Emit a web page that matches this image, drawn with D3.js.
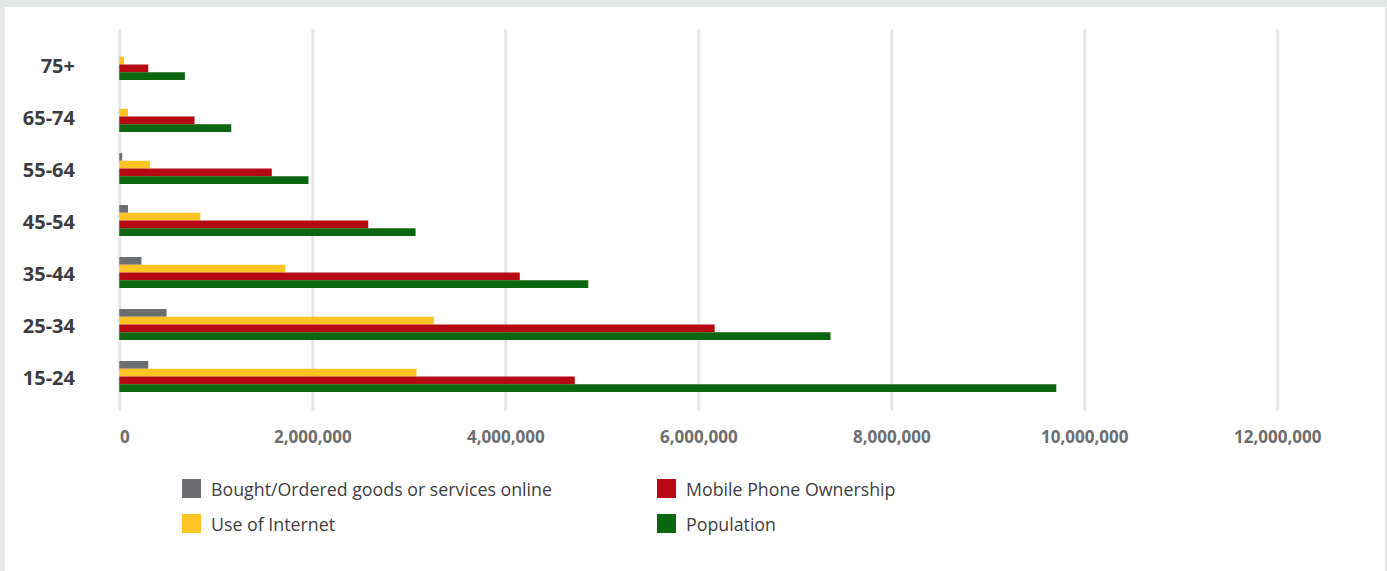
<!DOCTYPE html>
<html lang="en">
<head>
    <meta charset="UTF-8">
    <script src="https://cdnjs.cloudflare.com/ajax/libs/d3/7.8.5/d3.min.js"></script>
    <style>
        body { margin: 0; background: #e6e7e8; }
        svg { display: block; }
    </style>
</head>
<body>
    <div id="viz"><svg width="1387" height="571"></svg></div>
    <script>
        // age groups, top to bottom
        const categories = ["75+", "65-74", "55-64", "45-54", "35-44", "25-34", "15-24"];
        const bought     = [0, 0, 30000, 90000, 230000, 490000, 300000];
        const internet   = [50000, 90000, 320000, 840000, 1720000, 3260000, 3080000];
        const mobile     = [300000, 780000, 1580000, 2580000, 4150000, 6170000, 4720000];
        const population = [680000, 1160000, 1960000, 3070000, 4860000, 7370000, 9710000];
        const tickValues = [0, 2000000, 4000000, 6000000, 8000000, 10000000, 12000000];

        const seriesNames = ["Bought/Ordered goods or services online", "Use of Internet",
                             "Mobile Phone Ownership", "Population"];
        const seriesData = [bought, internet, mobile, population];
        const colors = ["#6d6e72", "#ffc423", "#b70914", "#0c650f"];

        const svg = d3.select("svg");

        // white panel on grey page
        svg.append("rect")
            .attr("width", 1387).attr("height", 571)
            .attr("fill", "#e6e7e8");
        svg.append("rect")
            .attr("x", 5).attr("y", 7)
            .attr("width", 1380).attr("height", 564)
            .attr("fill", "#ffffff");

        const xScale = d3.scaleLinear().domain([0, 12000000]).range([119.3, 1277.3]);
        const yScale = d3.scaleBand()
            .domain(categories)
            .range([49, 392])
            .paddingInner(0.404)
            .paddingOuter(0);
        const subScale = d3.scaleBand()
            .domain(d3.range(seriesNames.length))
            .range([0, yScale.bandwidth()]);

        const xAxis = d3.axisBottom(xScale)
            .tickValues(tickValues)
            .tickSize(382)
            .tickPadding(20)
            .tickFormat(d3.format(","));

        const axisG = svg.append("g")
            .attr("transform", "translate(0,29)")
            .call(xAxis);
        axisG.select(".domain").remove();
        axisG.selectAll(".tick line")
            .attr("stroke", "#e6e6e6")
            .attr("stroke-width", 3);
        axisG.selectAll(".tick text")
            .attr("fill", "#6d6e71")
            .style("font-family", "'Open Sans', sans-serif")
            .style("font-weight", "bold")
            .style("font-size", "17px");
        axisG.selectAll(".tick text")
            .filter(d => d === 0)
            .attr("dx", 5);

        // bars
        const groups = svg.selectAll("g.cat")
            .data(categories)
            .enter()
            .append("g")
            .attr("class", "cat")
            .attr("transform", d => `translate(0,${yScale(d)})`);

        groups.selectAll("rect")
            .data((d, i) => seriesData.map((s, k) => ({ k: k, v: s[i] })))
            .enter()
            .append("rect")
            .attr("x", xScale(0))
            .attr("y", d => subScale(d.k))
            .attr("width", d => xScale(d.v) - xScale(0))
            .attr("height", subScale.bandwidth())
            .attr("fill", d => colors[d.k]);

        // category labels
        svg.selectAll("text.cat")
            .data(categories)
            .enter()
            .append("text")
            .attr("class", "cat")
            .attr("x", 75)
            .attr("y", d => yScale(d) + yScale.bandwidth() / 2)
            .attr("dy", "0.42em")
            .attr("text-anchor", "end")
            .attr("fill", "#3d3d3f")
            .style("font-family", "'Open Sans', sans-serif")
            .style("font-weight", "bold")
            .style("font-size", "20px")
            .text(d => d);

        // legend, two columns
        const legX = [182, 657], legY = [479, 514];
        const legend = svg.selectAll("g.legend")
            .data(seriesNames)
            .enter()
            .append("g")
            .attr("class", "legend")
            .attr("transform", (d, i) => `translate(${legX[Math.floor(i / 2)]},${legY[i % 2]})`);
        legend.append("rect")
            .attr("width", 19).attr("height", 19)
            .attr("fill", (d, i) => colors[i]);
        legend.append("text")
            .attr("x", 29)
            .attr("y", 17)
            .attr("fill", "#414042")
            .style("font-family", "'Open Sans', sans-serif")
            .style("font-size", "17.8px")
            .text(d => d);
    </script>
</body>
</html>
